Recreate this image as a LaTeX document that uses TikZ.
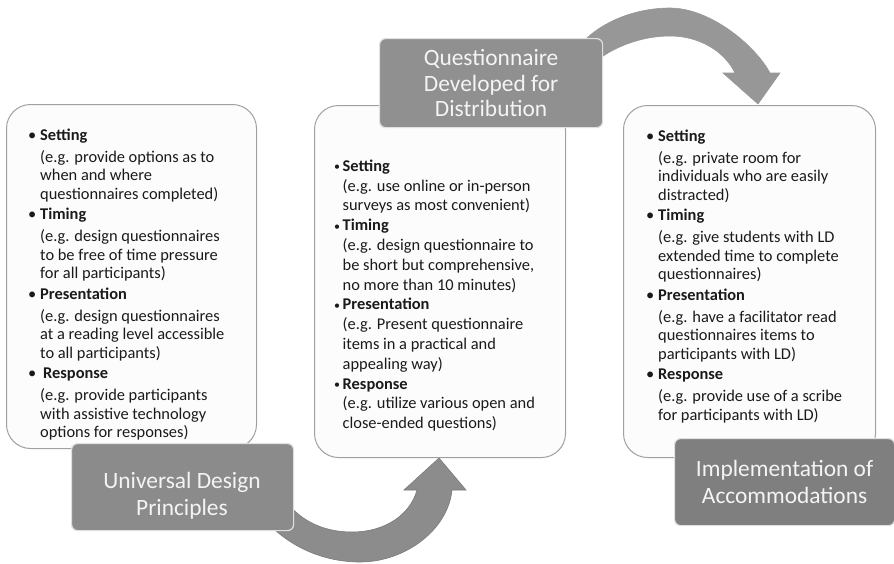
\documentclass[tikz,border=0pt]{standalone}
\usepackage{fontspec}
\setmainfont{Carlito}
\definecolor{boxline}{HTML}{A0A0A0}
\definecolor{boxfill}{HTML}{FCFCFC}
\definecolor{labeltext}{HTML}{F4F4F4}
\definecolor{labelA}{HTML}{8B8B8B}
\definecolor{labelB}{HTML}{909090}
\definecolor{labelC}{HTML}{7F7F7F}
\definecolor{arrowtopc}{HTML}{979797}
\definecolor{arrowbotc}{HTML}{8C8C8C}
\definecolor{arrowline}{HTML}{7A7A7A}
\definecolor{bodytext}{HTML}{1A1A1A}
\newcommand{\bul}[2][10.5pt]{\makebox[#1][l]{\hspace*{-1.5pt}\textbullet}\textbf{#2}}
\newcommand{\bulb}[1]{\makebox[8pt][l]{\hspace*{-0.5pt}\raisebox{0.6pt}{\fontsize{12}{12}\selectfont\textbullet}}\textbf{#1}}
\newcommand{\ind}{\hspace*{10.5pt}}
\newcommand{\indb}{\hspace*{8pt}}
\begin{document}
\begin{tikzpicture}[x=1pt,y=-1pt,
  cbox/.style={draw=boxline, line width=1pt, fill=boxfill, rounded corners=24pt, anchor=north west, inner sep=0pt},
  lbox/.style={draw=white!88!black, line width=1.2pt, rounded corners=6pt, anchor=north west, inner sep=0pt},
  ltext/.style={text=labeltext, align=center, inner sep=0pt, font=\fontsize{23.4}{27}\selectfont},
  ctext/.style={anchor=north west, inner sep=0pt, align=left, text=bodytext, font=\fontsize{16.4}{18.5}\selectfont},
  toparrow/.style={fill=arrowtopc, draw=arrowtopc, line width=0.6pt},
  botarrow/.style={fill=arrowbotc, draw=arrowline, line width=0.6pt}
]
\useasboundingbox (0,0) rectangle (894,563);

% curved arrows (behind the boxes)
\path[toparrow] (580,45) .. controls (600,22) and (635,8) .. (670,8)
  .. controls (710,8) and (755,45) .. (770,73)
  -- (780,73) -- (758,104) -- (723,73) -- (735,73)
  .. controls (725,52) and (700,36) .. (670,36)
  .. controls (640,36) and (612,48) .. (595,62) -- cycle;
\path[botarrow] (265,520) .. controls (290,548) and (325,562) .. (360,562)
  .. controls (405,562) and (448,530) .. (452,490)
  -- (466,490) -- (439,458) -- (404,490) -- (417,490)
  .. controls (410,515) and (385,532) .. (352,532)
  .. controls (320,532) and (298,518) .. (285,500) -- cycle;

% content boxes
\node[cbox, minimum width=250pt, minimum height=344pt] (b1) at (6,104) {};
\node[cbox, minimum width=251pt, minimum height=352pt] (b2) at (314,105) {};
\node[cbox, minimum width=252pt, minimum height=352pt] (b3) at (623,105) {};

\node[ctext] (t1) at (29.5,128.5) {%
\bul{Setting}\\[3.5pt]
\ind(e.g. provide options as to\\
\ind when and where\\
\ind questionnaires completed)\\[2pt]
\bul{Timing}\\[3.5pt]
\ind(e.g. design questionnaires\\
\ind to be free of time pressure\\
\ind for all participants)\\[2pt]
\bul{Presentation}\\[3.5pt]
\ind(e.g. design questionnaires\\
\ind at a reading level accessible\\
\ind to all participants)\\[2pt]
\bul[13.5pt]{Response}\\[3.5pt]
\ind(e.g. provide participants\\
\ind with assistive technology\\
\ind options for responses)};

\node[ctext, font=\fontsize{16.4}{19.8}\selectfont] (t2) at (334.5,159.5) {%
\bulb{Setting}\\
\indb(e.g. use online or in-person\\
\indb surveys as most convenient)\\
\bulb{Timing}\\
\indb(e.g. design questionnaire to\\
\indb be short but comprehensive,\\
\indb no more than 10 minutes)\\
\bulb{Presentation}\\
\indb(e.g. Present questionnaire\\
\indb items in a practical and\\
\indb appealing way)\\
\bulb{Response}\\
\indb(e.g. utilize various open and\\
\indb close-ended questions)};

\node[ctext] (t3) at (647.5,129.5) {%
\bul{Setting}\\[3.5pt]
\ind(e.g. private room for\\
\ind individuals who are easily\\
\ind distracted)\\[2pt]
\bul{Timing}\\[3.5pt]
\ind(e.g. give students with LD\\
\ind extended time to complete\\
\ind questionnaires)\\[2pt]
\bul{Presentation}\\[3.5pt]
\ind(e.g. have a facilitator read\\
\ind questionnaires items to\\
\ind participants with LD)\\[2pt]
\bul{Response}\\[3.5pt]
\ind(e.g. provide use of a scribe\\
\ind for participants with LD)};

% label boxes
\node[lbox, fill=labelA, minimum width=222pt, minimum height=87pt] (l1) at (71,443) {};
\node[ltext] (l1t) at (182,496) {Universal Design\\Principles};
\node[lbox, fill=labelB, minimum width=223pt, minimum height=89pt] (l2) at (379,38) {};
\node[ltext, font=\fontsize{23.4}{25.5}\selectfont] (l2t) at (l2.center) {Questionnaire\\Developed for\\Distribution};
\node[lbox, fill=labelC, minimum width=220pt, minimum height=87pt] (l3) at (674,438) {};
\node[ltext] (l3t) at (l3.center) {Implementation of\\Accommodations};
\end{tikzpicture}
\end{document}
